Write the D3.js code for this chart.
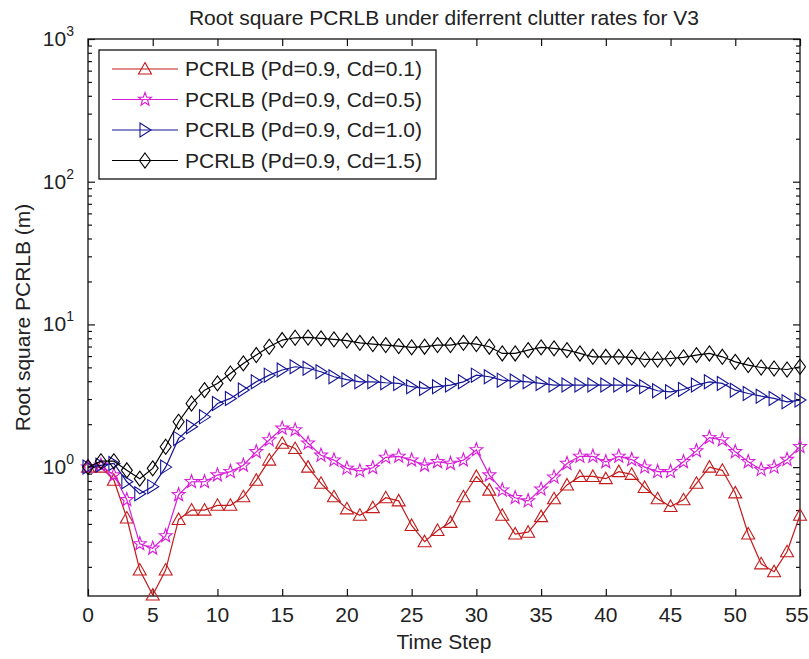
<!DOCTYPE html>
<html>
<head>
<meta charset="utf-8">
<script src="https://cdn.jsdelivr.net/npm/d3@7"></script>
<style>
  html, body { margin: 0; padding: 0; background: #fff; }
  svg { display: block; }
  text { font-family: "Liberation Sans", Arial, sans-serif; fill: #222; }
</style>
</head>
<body>
<svg id="chart" width="809" height="659"></svg>
<script>
// ---------------- data ----------------
const timeSteps = [0,1,2,3,4,5,6,7,8,9,10,11,12,13,14,15,16,17,18,19,20,21,22,23,24,25,26,27,28,29,30,31,32,33,34,35,36,37,38,39,40,41,42,43,44,45,46,47,48,49,50,51,52,53,54,55];

const pcrlbCd01 = [1.0,1.0,0.81,0.44,0.19,0.127,0.19,0.43,0.5,0.5,
  0.54,0.54,0.62,0.81,1.12,1.47,1.35,1.0,0.77,0.62,
  0.51,0.46,0.52,0.61,0.58,0.39,0.30,0.36,0.41,0.62,
  0.86,0.69,0.46,0.34,0.35,0.45,0.60,0.75,0.86,0.86,
  0.83,0.93,0.89,0.72,0.60,0.53,0.59,0.77,1.0,0.95,
  0.66,0.34,0.21,0.185,0.255,0.46];

const pcrlbCd05 = [1.0,1.03,0.88,0.59,0.29,0.27,0.33,0.64,0.79,0.79,
  0.88,0.93,1.03,1.28,1.55,1.87,1.82,1.47,1.21,1.12,
  0.98,0.94,0.99,1.17,1.19,1.12,1.03,1.09,1.06,1.12,
  1.32,0.88,0.69,0.61,0.58,0.70,0.85,1.06,1.19,1.19,
  1.09,1.19,1.13,1.0,0.93,0.93,1.09,1.30,1.61,1.55,
  1.28,1.09,0.96,1.0,1.13,1.39];

const pcrlbCd10 = [1.0,1.03,1.06,0.79,0.65,0.73,1.0,1.59,1.92,2.25,
  2.79,3.03,3.47,3.96,4.41,4.79,5.05,4.93,4.66,4.3,
  4.1,3.96,3.96,3.90,3.86,3.66,3.56,3.66,3.76,3.96,
  4.41,4.30,4.07,4.01,3.96,3.86,3.76,3.76,3.76,3.76,
  3.76,3.76,3.76,3.66,3.43,3.37,3.50,3.76,3.96,3.86,
  3.46,3.28,3.14,3.03,2.87,2.95];

const pcrlbCd15 = [1.0,1.1,1.1,0.95,0.83,0.98,1.39,2.08,2.79,3.46,
  3.86,4.53,5.33,6.1,6.97,7.77,8.06,8.1,7.98,7.85,
  7.7,7.43,7.28,7.16,7.05,6.9,6.98,7.16,7.16,7.43,
  7.28,6.98,6.26,6.26,6.6,6.9,6.79,6.6,6.26,5.93,
  5.93,5.93,5.87,5.68,5.68,5.77,5.87,6.09,6.26,5.93,
  5.47,5.19,4.99,4.91,4.83,5.05];

const seriesNames = ["PCRLB (Pd=0.9, Cd=0.1)", "PCRLB (Pd=0.9, Cd=0.5)", "PCRLB (Pd=0.9, Cd=1.0)", "PCRLB (Pd=0.9, Cd=1.5)"];
const seriesColors = ["#c41a1a", "#d81ed8", "#141496", "#000000"];
const seriesMarkers = ["triangleUp", "star", "triangleRight", "diamond"];

const xTickValues = [0,5,10,15,20,25,30,35,40,45,50,55];
const yMajorTicks = [1,10,100,1000];
const yMajorExponents = ["0","1","2","3"];
const yMinorTicks = [0.2,0.3,0.4,0.5,0.6,0.7,0.8,0.9,2,3,4,5,6,7,8,9,20,30,40,50,60,70,80,90,200,300,400,500,600,700,800,900];

const titleText = "Root square PCRLB under diferrent clutter rates for V3";
const xLabelText = "Time Step";
const yLabelText = "Root square PCRLB (m)";

// ---------------- layout ----------------
const W = 809;
const L = 88, R = 800, T = 39, B = 596;
const FS = 21;

const svg = d3.select("#chart");
const x = d3.scaleLinear().domain([0, 55]).range([L, R]);
const y = d3.scaleLog().domain([0.125, 1000]).range([B, T]);

// marker shapes
function markerPath(type) {
  const p = d3.path();
  if (type === "triangleUp") {
    p.moveTo(0, -6.5); p.lineTo(6.5, 5); p.lineTo(-6.5, 5); p.closePath();
  } else if (type === "triangleRight") {
    p.moveTo(6, 0); p.lineTo(-5, -7); p.lineTo(-5, 7); p.closePath();
  } else if (type === "diamond") {
    p.moveTo(0, -7.5); p.lineTo(5.5, 0); p.lineTo(0, 7.5); p.lineTo(-5.5, 0); p.closePath();
  } else if (type === "star") {
    const ro = 6.8, ri = 2.8;
    for (let i = 0; i < 10; i++) {
      const r = i % 2 === 0 ? ro : ri;
      const a = -Math.PI / 2 + i * Math.PI / 5;
      const px = r * Math.cos(a), py = r * Math.sin(a) * 1.05;
      if (i === 0) p.moveTo(px, py); else p.lineTo(px, py);
    }
    p.closePath();
  }
  return p.toString();
}

const allSeries = [pcrlbCd01, pcrlbCd05, pcrlbCd10, pcrlbCd15];

svg.append("defs").append("clipPath").attr("id", "plotclip")
  .append("rect").attr("x", L).attr("y", T).attr("width", R - L).attr("height", B - T);

svg.append("rect").attr("x", L).attr("y", T).attr("width", R - L).attr("height", B - T)
  .attr("fill", "#fff");

function styleAxis(g) {
  g.select(".domain").remove();
  g.selectAll(".tick line").attr("stroke", "#111").attr("stroke-width", 1.2);
}
svg.append("g").attr("transform", `translate(0,${B})`)
  .call(d3.axisBottom(x).tickValues(xTickValues).tickSize(-7).tickFormat(""))
  .call(styleAxis);
svg.append("g").attr("transform", `translate(0,${T})`)
  .call(d3.axisTop(x).tickValues(xTickValues).tickSize(-7).tickFormat(""))
  .call(styleAxis);
svg.append("g").attr("transform", `translate(${L},0)`)
  .call(d3.axisLeft(y).tickValues(yMajorTicks).tickSize(-7).tickFormat(""))
  .call(styleAxis);
svg.append("g").attr("transform", `translate(${R},0)`)
  .call(d3.axisRight(y).tickValues(yMajorTicks).tickSize(-7).tickFormat(""))
  .call(styleAxis);
svg.append("g").attr("transform", `translate(${L},0)`)
  .call(d3.axisLeft(y).tickValues(yMinorTicks).tickSize(-4).tickFormat(""))
  .call(styleAxis);
svg.append("g").attr("transform", `translate(${R},0)`)
  .call(d3.axisRight(y).tickValues(yMinorTicks).tickSize(-4).tickFormat(""))
  .call(styleAxis);

svg.append("rect").attr("x", L).attr("y", T).attr("width", R - L).attr("height", B - T)
  .attr("fill", "none").attr("stroke", "#111").attr("stroke-width", 1.3);

// x tick labels (the last one is kept inside the page edge)
svg.append("g").selectAll("text").data(xTickValues).join("text")
  .attr("x", d => Math.min(x(d), W - 12)).attr("y", B + 26)
  .attr("text-anchor", "middle").attr("font-size", FS)
  .text(d => d);

// y tick labels with superscripts
const yl = svg.append("g").selectAll("text").data(yMajorTicks).join("text")
  .attr("x", L - 14).attr("y", d => y(d) + 7)
  .attr("text-anchor", "end").attr("font-size", FS);
yl.append("tspan").text("10");
yl.append("tspan").attr("dy", -10).attr("font-size", 14).text((d, i) => yMajorExponents[i]);

// title and labels
svg.append("text").attr("x", (L + R) / 2).attr("y", 25).attr("text-anchor", "middle")
  .attr("font-size", FS).text(titleText);
svg.append("text").attr("x", (L + R) / 2).attr("y", B + 53).attr("text-anchor", "middle")
  .attr("font-size", FS).text(xLabelText);
svg.append("text").attr("transform", `translate(30,${(T + B) / 2}) rotate(-90)`)
  .attr("text-anchor", "middle").attr("font-size", FS).text(yLabelText);

// series
const line = d3.line().x((d, i) => x(timeSteps[i])).y(d => y(d));
allSeries.forEach((vals, si) => {
  const g = svg.append("g");
  g.append("path").datum(vals).attr("d", line)
    .attr("fill", "none").attr("stroke", seriesColors[si]).attr("stroke-width", 1.2)
    .attr("clip-path", "url(#plotclip)");
  g.selectAll("path.m").data(vals).join("path").attr("class", "m")
    .attr("d", markerPath(seriesMarkers[si]))
    .attr("transform", (d, i) => `translate(${x(timeSteps[i])},${y(d)})`)
    .attr("fill", "none").attr("stroke", seriesColors[si]).attr("stroke-width", 1.1);
});

// legend
const lgX = 99, lgY = 50, lgW = 337, lgH = 129;
svg.append("rect").attr("x", lgX).attr("y", lgY).attr("width", lgW).attr("height", lgH)
  .attr("fill", "#fff").attr("stroke", "#111").attr("stroke-width", 1.3);
seriesNames.forEach((name, si) => {
  const cy = lgY + 19 + si * 30.5;
  svg.append("line").attr("x1", lgX + 13).attr("x2", lgX + 79).attr("y1", cy).attr("y2", cy)
    .attr("stroke", seriesColors[si]).attr("stroke-width", 1.2);
  svg.append("path").attr("d", markerPath(seriesMarkers[si]))
    .attr("transform", `translate(${lgX + 46},${cy})`)
    .attr("fill", "none").attr("stroke", seriesColors[si]).attr("stroke-width", 1.1);
  svg.append("text").attr("x", lgX + 86).attr("y", cy + 7).attr("font-size", FS).text(name);
});
</script>
</body>
</html>
